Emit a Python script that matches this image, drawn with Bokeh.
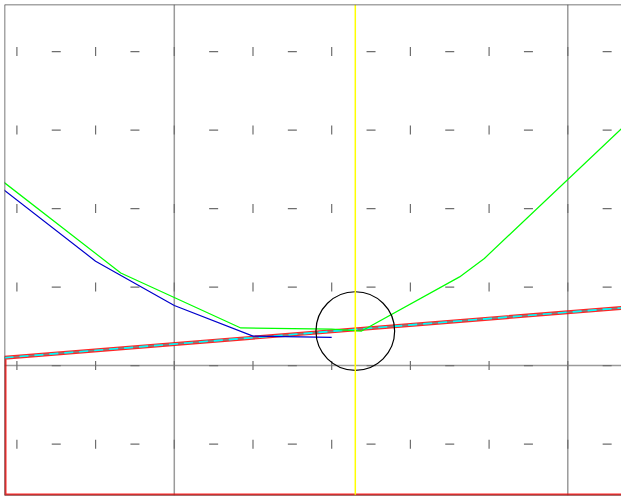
import math
from bokeh.plotting import figure
from bokeh.models import Range1d, Span, ColumnDataSource
from bokeh.embed import file_html
from bokeh.resources import INLINE

# ---- data ----
mark_cols = [-4, -3, -2, -1, 0, 1, 2, 3, 4, 5, 6, 7, 8, 9, 10, 11]
mark_rows = [-2, 0, 2, 4, 6, 8]
gray_vlines = [0, 10]
gray_hlines = [0]
yellow_x = 4.6

circle_x = [4.6]
circle_y = [0.88]
circle_r = [1.0]

green_x = [-5.0, -1.36, 1.69, 4.0, 4.76, 7.25, 7.88, 12.0]
green_y = [5.19, 2.36, 0.96, 0.93, 0.88, 2.26, 2.73, 6.64]

blue_x = [-5.0, -2.0, 0.0, 2.0, 4.0]
blue_y = [5.0, 2.66, 1.53, 0.75, 0.72]

x_start, x_end = -4.315, 11.365
y_start, y_end = -3.308, 9.198

band_x = [x_start, 12.0]
band_top = [0.2005, 1.522]
band_bottom = y_start

# ---- figure ----
p = figure(width=621, height=496, output_backend="svg", toolbar_location=None,
           x_range=Range1d(x_start, x_end), y_range=Range1d(y_start, y_end),
           x_axis_location=None, y_axis_location=None,
           min_border_left=4, min_border_top=4, min_border_right=0, min_border_bottom=1)
p.xgrid.visible = False
p.ygrid.visible = False
p.outline_line_color = None
p.background_fill_color = "white"
p.border_fill_color = "white"

for gx in gray_vlines:
    p.add_layout(Span(location=gx, dimension="height", line_color="#9a9a9a",
                      line_width=1.5, level="underlay"))
for gy in gray_hlines:
    p.add_layout(Span(location=gy, dimension="width", line_color="#9a9a9a",
                      line_width=1.5, level="underlay"))

mx, my, ma = [], [], []
for r in mark_rows:
    for c in mark_cols:
        mx.append(c)
        my.append(r)
        ma.append(math.pi / 2 if c % 2 == 0 else 0.0)
marks = ColumnDataSource(dict(x=mx, y=my, angle=ma))
p.scatter("x", "y", source=marks, marker="dash", size=9, angle="angle",
          line_color="#6e6e6e", line_width=1.2)

# band with red outline
px = [band_x[0], band_x[1], band_x[1], band_x[0]]
py = [band_top[0], band_top[1], band_bottom, band_bottom]
p.patch(px, py, fill_color=None, line_color="red", line_width=4, line_alpha=0.85)
p.line(band_x, band_top, line_color="#808080", line_width=1.6)
p.line(band_x, band_top, line_color="cyan", line_width=1.6, line_dash="9 6")

p.line(green_x, green_y, line_color="#00ff00", line_width=1.2)
p.line(blue_x, blue_y, line_color="#0000cc", line_width=1.2)

p.circle(circle_x, circle_y, radius=circle_r, fill_color=None,
         line_color="black", line_width=1.2)

p.add_layout(Span(location=yellow_x, dimension="height", line_color="#ffff00",
                  line_width=1.5))

# frame border on left, top and bottom
p.add_layout(Span(location=x_start, dimension="height", line_color="#4d4d4d", line_width=1.5))
p.add_layout(Span(location=y_end, dimension="width", line_color="#4d4d4d", line_width=1.5))
p.add_layout(Span(location=y_start, dimension="width", line_color="#4d4d4d", line_width=1.5))

open("out.html", "w").write(file_html(p, INLINE))
